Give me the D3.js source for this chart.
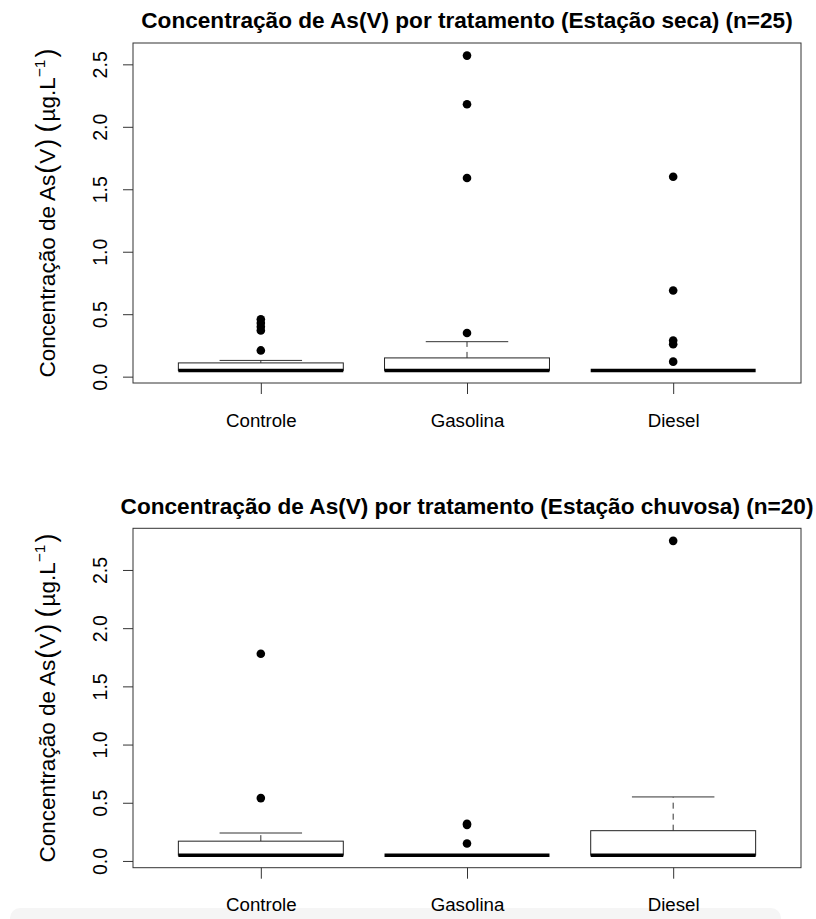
<!DOCTYPE html>
<html>
<head>
<meta charset="utf-8">
<script src="https://cdn.jsdelivr.net/npm/d3@7"></script>
<style>
  body { margin: 0; background: #fff; }
  svg { display: block; font-family: "Liberation Sans", Arial, sans-serif; }
</style>
</head>
<body>
<svg id="chart" width="816" height="919"></svg>
<script>
// categories and tick labels
const categories = ["Controle", "Gasolina", "Diesel"];
const yTicks = [0, 0.5, 1.0, 1.5, 2.0, 2.5];

// box statistics: [lower whisker, q1, median, q3, upper whisker]
const secaStats = [
  [0.05, 0.05, 0.05, 0.11, 0.13],
  [0.05, 0.05, 0.05, 0.15, 0.28],
  [0.05, 0.05, 0.05, 0.05, 0.05]
];
const secaOutliers = [
  [0.21, 0.37, 0.40, 0.43, 0.46],
  [0.35, 1.59, 2.18, 2.57],
  [0.12, 0.26, 0.29, 0.69, 1.60]
];

const chuvosaStats = [
  [0.05, 0.05, 0.05, 0.17, 0.24],
  [0.05, 0.05, 0.05, 0.05, 0.05],
  [0.05, 0.05, 0.05, 0.26, 0.55]
];
const chuvosaOutliers = [
  [0.54, 1.78],
  [0.15, 0.31, 0.32],
  [2.75]
];

const titles = [
  "Concentração de As(V) por tratamento (Estação seca) (n=25)",
  "Concentração de As(V) por tratamento (Estação chuvosa) (n=20)"
];

const svg = d3.select("#chart");

// faint grey strip at the very bottom of the screenshot
svg.append("rect")
  .attr("x", 10).attr("y", 908)
  .attr("width", 771).attr("height", 30)
  .attr("rx", 10)
  .attr("fill", "#f5f5f5");

function drawPanel(stats, outliers, title, top, bottom) {
  let left = 133, right = 801;
  let g = svg.append("g");

  // R style: 4% padding around the data range
  let all = stats.flat().concat(outliers.flat());
  let lo = d3.min(all), hi = d3.max(all);
  let pad = (hi - lo) * 0.04;

  let x = d3.scaleLinear().domain([0.38, 3.62]).range([left, right]);
  let y = d3.scaleLinear().domain([lo - pad, hi + pad]).range([bottom, top]);

  let boxW = x(1.4) - x(1);   // half of the 0.8 box width
  let capW = boxW / 2;

  // title
  g.append("text")
    .attr("x", (left + right) / 2)
    .attr("y", top - 14.7)
    .attr("text-anchor", "middle")
    .attr("font-weight", "bold")
    .attr("font-size", 22.6)
    .text(title);

  // y axis
  let yAxis = d3.axisLeft(y).tickValues(yTicks).tickSize(10).tickSizeOuter(0)
    .tickFormat(d3.format(".1f"));
  let gy = g.append("g").attr("transform", `translate(${left},0)`).call(yAxis);
  gy.select(".domain").remove();
  gy.selectAll(".tick line").attr("stroke", "#333");
  gy.selectAll(".tick text")
    .attr("x", null).attr("dy", null)
    .attr("transform", "translate(-26,0) rotate(-90)")
    .attr("text-anchor", "middle")
    .attr("font-size", 19.5)
    .attr("font-family", null)
    .attr("fill", "#000");

  // x axis
  let xAxis = d3.axisBottom(x).tickValues([1, 2, 3]).tickSize(11).tickSizeOuter(0)
    .tickFormat((d) => categories[d - 1]);
  let gx = g.append("g").attr("transform", `translate(0,${bottom})`).call(xAxis);
  gx.select(".domain").remove();
  gx.selectAll(".tick line").attr("stroke", "#333");
  gx.selectAll(".tick text")
    .attr("y", 43.5).attr("dy", null)
    .attr("font-size", 18.7)
    .attr("font-family", null)
    .attr("fill", "#000");

  // y axis title
  let yt = g.append("text")
    .attr("transform", `translate(55,${(top + bottom) / 2}) rotate(-90)`)
    .attr("text-anchor", "middle")
    .attr("font-size", 22.5);
  yt.append("tspan").text("Concentração de As");
  yt.append("tspan").attr("font-size", 27).attr("dx", 1).text("(");
  yt.append("tspan").attr("dx", 1).text("V");
  yt.append("tspan").attr("font-size", 27).attr("dx", 1).text(")");
  yt.append("tspan").text(" ");
  yt.append("tspan").attr("font-size", 27).text("(");
  yt.append("tspan").attr("dx", 2).text("µg.L");
  yt.append("tspan").attr("font-size", 15.5).attr("dy", -10).text("−1");
  yt.append("tspan").attr("font-size", 27).attr("dy", 10).attr("dx", 2).text(")");

  // boxes
  let boxes = g.selectAll(".box").data(stats).enter().append("g").attr("class", "box");
  boxes.append("line")   // upper whisker
    .attr("x1", (d, i) => x(i + 1)).attr("x2", (d, i) => x(i + 1))
    .attr("y1", (d) => y(d[3])).attr("y2", (d) => y(d[4]))
    .attr("stroke", "#333").attr("stroke-dasharray", "6,5");
  boxes.append("line")   // lower whisker
    .attr("x1", (d, i) => x(i + 1)).attr("x2", (d, i) => x(i + 1))
    .attr("y1", (d) => y(d[1])).attr("y2", (d) => y(d[0]))
    .attr("stroke", "#333").attr("stroke-dasharray", "6,5");
  boxes.filter((d) => d[4] > d[3]).append("line")   // upper staple
    .attr("x1", (d) => x(stats.indexOf(d) + 1) - capW).attr("x2", (d) => x(stats.indexOf(d) + 1) + capW)
    .attr("y1", (d) => y(d[4])).attr("y2", (d) => y(d[4]))
    .attr("stroke", "#333");
  boxes.append("rect")
    .attr("x", (d, i) => x(i + 1) - boxW)
    .attr("width", boxW * 2)
    .attr("y", (d) => y(d[3]))
    .attr("height", (d) => y(d[1]) - y(d[3]))
    .attr("fill", "#fff").attr("stroke", "#222");
  boxes.append("line")   // median
    .attr("x1", (d, i) => x(i + 1) - boxW).attr("x2", (d, i) => x(i + 1) + boxW)
    .attr("y1", (d) => y(d[2])).attr("y2", (d) => y(d[2]))
    .attr("stroke", "#000").attr("stroke-width", 3.5);

  // outliers
  let pts = [];
  outliers.forEach((arr, i) => arr.forEach((v) => pts.push({ cat: i + 1, v: v })));
  g.selectAll(".pt").data(pts).enter().append("circle")
    .attr("class", "pt")
    .attr("cx", (d) => x(d.cat))
    .attr("cy", (d) => y(d.v))
    .attr("r", 4.3)
    .attr("fill", "#000");

  // plot frame
  g.append("rect")
    .attr("x", left).attr("y", top)
    .attr("width", right - left).attr("height", bottom - top)
    .attr("fill", "none").attr("stroke", "#333");
}

drawPanel(secaStats, secaOutliers, titles[0], 43, 383);
drawPanel(chuvosaStats, chuvosaOutliers, titles[1], 528.3, 867.7);
</script>
</body>
</html>
